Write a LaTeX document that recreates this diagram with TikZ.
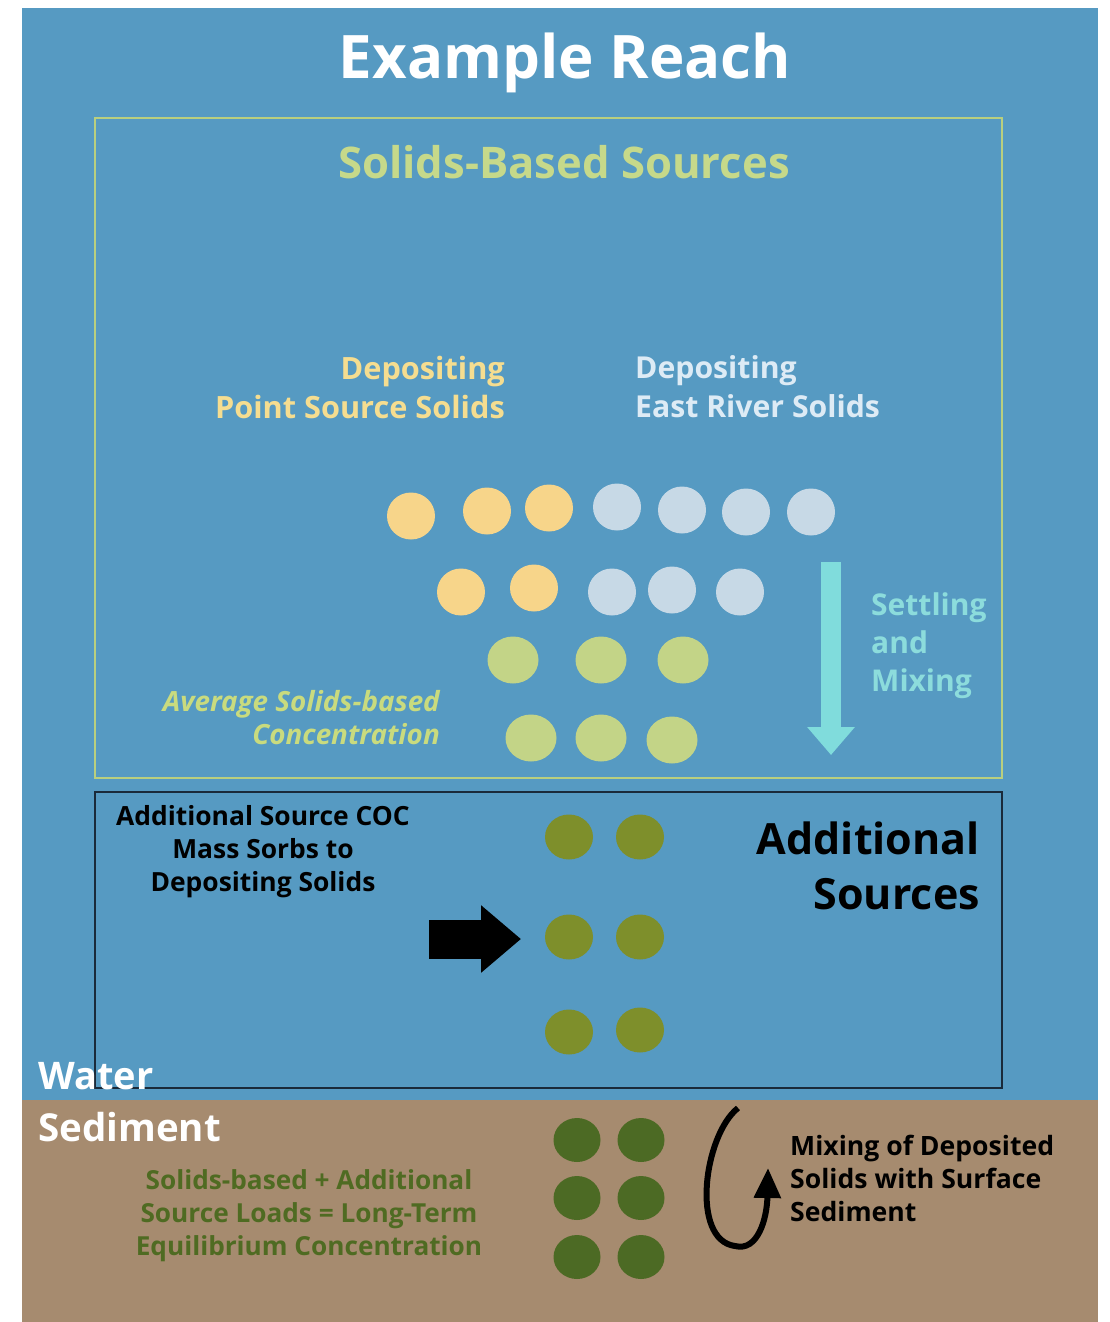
\documentclass[tikz,border=0pt]{standalone}
\usepackage{fontspec}
\setmainfont{Open Sans}
\usetikzlibrary{arrows.meta,shapes.geometric}
\definecolor{waterblue}{HTML}{569AC2}
\definecolor{sedbrown}{HTML}{A68B6F}
\definecolor{boxgreen}{HTML}{B9CF7E}
\definecolor{boxdark}{HTML}{1A2A3A}
\definecolor{cyellow}{HTML}{F7D58A}
\definecolor{cgrey}{HTML}{C7D9E6}
\definecolor{clgreen}{HTML}{C3D487}
\definecolor{colive}{HTML}{7E8F2B}
\definecolor{cdark}{HTML}{4C6A24}
\definecolor{tgreen}{HTML}{C6D98A}
\definecolor{tyellow}{HTML}{F5DD90}
\definecolor{tblue}{HTML}{DDEBF5}
\definecolor{tcyan}{HTML}{8CDCDC}
\definecolor{acyan}{HTML}{80DCDC}
\definecolor{tavg}{HTML}{C9DB7E}
\definecolor{tsed}{HTML}{4F6B22}
\tikzset{
  dot/.style={ellipse, minimum width=48pt, minimum height=47pt, inner sep=0pt},
  yel/.style={dot, fill=cyellow},
  gry/.style={dot, fill=cgrey},
  lgr/.style={dot, fill=clgreen, minimum width=51pt},
  oli/.style={dot, fill=colive, minimum height=45pt},
  drk/.style={dot, fill=cdark, minimum width=47pt, minimum height=44pt},
  lbl/.style={inner sep=0pt, font=\bfseries},
}
\begin{document}
\begin{tikzpicture}[x=1pt,y=-1pt]
\useasboundingbox (0,0) rectangle (1109,1322);
\fill[white] (0,0) rectangle (1109,1322);
\fill[waterblue] (22,8) rectangle (1098,1100);
\fill[sedbrown] (22,1100) rectangle (1098,1322);
% boxes
\draw[boxgreen, line width=1.5pt] (95,118) rectangle (1002,778);
\draw[boxdark, line width=1.5pt] (95,792) rectangle (1002,1088);
% titles
\node[lbl, text=white, font=\bfseries\fontsize{60}{62}\selectfont, anchor=base] (title) at (565,78) {Example Reach};
\node[lbl, text=tgreen, font=\bfseries\fontsize{43.6}{46}\selectfont, anchor=base] (sbs) at (564,178) {Solids-Based Sources};
\node[lbl, text=tyellow, font=\bfseries\fontsize{30.7}{39}\selectfont, align=right, anchor=east] (pss) at (505,387) {Depositing\\Point Source Solids};
\node[lbl, text=tblue, font=\bfseries\fontsize{30.2}{39}\selectfont, align=left, anchor=west] (ers) at (635,387) {Depositing\\East River Solids};
% circles row 1
\node[yel] (a1) at (411,516) {};
\node[yel] (a2) at (487,511) {};
\node[yel] (a3) at (549,508) {};
\node[gry] (a4) at (617,507) {};
\node[gry] (a5) at (682,510) {};
\node[gry] (a6) at (746,512) {};
\node[gry] (a7) at (811,512) {};
% row 2
\node[yel] (b1) at (461,592) {};
\node[yel] (b2) at (534,588) {};
\node[gry] (b3) at (612,592) {};
\node[gry] (b4) at (672,590) {};
\node[gry] (b5) at (740,592) {};
% row 3
\node[lgr] (c1) at (513,660) {};
\node[lgr] (c2) at (601,660) {};
\node[lgr] (c3) at (683,660) {};
% row 4
\node[lgr] (d1) at (531,738) {};
\node[lgr] (d2) at (601,738) {};
\node[lgr] (d3) at (672,740) {};
% settling arrow
\coordinate (s1) at (831,562);
\coordinate (s2) at (831,755);
\draw[acyan, line width=20pt, -{Triangle[width=46pt,length=28pt]}] (s1) -- (s2);
\node[lbl, text=tcyan, font=\bfseries\fontsize{30}{38}\selectfont, align=left, anchor=west] (sm) at (871,646) {Settling\\and\\Mixing};
\node[lbl, text=tavg, font=\bfseries\itshape\fontsize{27.8}{33}\selectfont, align=right, anchor=east] (avg) at (440,718) {Average Solids-based\\Concentration};
% additional sources
\node[lbl, text=black, font=\bfseries\fontsize{26.4}{33}\selectfont, align=center] (coc) at (263,852) {Additional Source COC\\Mass Sorbs to\\Depositing Solids};
\node[lbl, text=black, font=\bfseries\fontsize{43}{55}\selectfont, align=right, anchor=east] (adds) at (980,866) {Additional\\Sources};
\node[oli] (e1) at (569,837) {};
\node[oli] (e2) at (640,837) {};
\node[oli] (f1) at (569,937) {};
\node[oli] (f2) at (640,937) {};
\node[oli] (g1) at (569,1032) {};
\node[oli] (g2) at (640,1030) {};
\coordinate (k1) at (429,939);
\coordinate (k2) at (521,939);
\draw[black, line width=39pt, -{Triangle[width=65pt,length=40pt]}] (k1) -- (k2);
% water / sediment
\node[lbl, text=white, font=\bfseries\fontsize{38}{40}\selectfont, anchor=base west] (water) at (38,1089) {Water};
\node[lbl, text=white, font=\bfseries\fontsize{38.5}{40}\selectfont, anchor=base west] (sed) at (38,1141) {Sediment};
\node[lbl, text=tsed, font=\bfseries\fontsize{26.2}{33}\selectfont, align=center] (eq) at (309,1216) {Solids-based + Additional\\Source Loads = Long-Term\\Equilibrium Concentration};
\node[drk] (h1) at (577,1140) {};
\node[drk] (h2) at (641,1140) {};
\node[drk] (i1) at (577,1198) {};
\node[drk] (i2) at (641,1198) {};
\node[drk] (j1) at (577,1257) {};
\node[drk] (j2) at (641,1257) {};
\coordinate (m1) at (738,1108);
\coordinate (m2) at (735,1246);
\coordinate (m3) at (768,1168);
\draw[black, line width=6pt, -{Triangle[width=26pt,length=30pt]}] (m1) .. controls (704,1135) and (690,1240) .. (m2) .. controls (758,1252) and (767,1218) .. (m3);
\node[lbl, text=black, font=\bfseries\fontsize{26.6}{33}\selectfont, align=left, anchor=west] (mix) at (790,1178) {Mixing of Deposited\\Solids with Surface\\Sediment};
\end{tikzpicture}
\end{document}
